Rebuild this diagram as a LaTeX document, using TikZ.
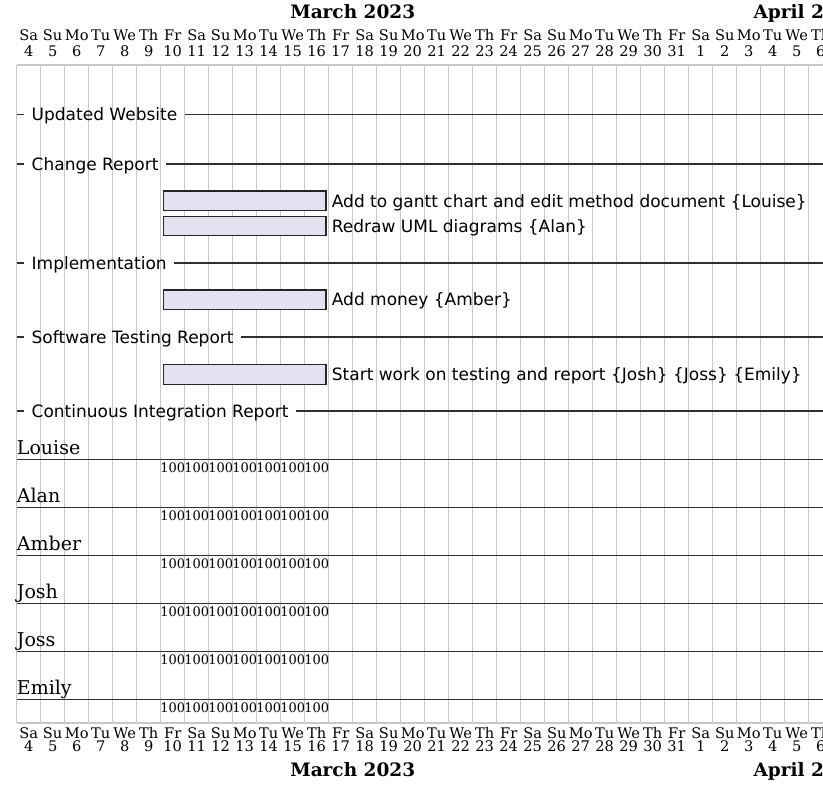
\documentclass[tikz,border=0pt]{standalone}
\usepackage{fontspec}
\setmainfont{DejaVu Serif}
\setsansfont{DejaVu Sans}
\usetikzlibrary{positioning}

\definecolor{gridgray}{HTML}{C8C8C8}
\definecolor{barfill}{HTML}{E2E2F0}
\definecolor{barline}{HTML}{262626}
\definecolor{rowline}{HTML}{303030}

\begin{document}
\begin{tikzpicture}[x=1pt, y=-1pt,
        day/.style={anchor=base, inner sep=0pt, font=\fontsize{14.6}{14.6}\selectfont},
        month/.style={anchor=base, inner sep=0pt, font=\bfseries\fontsize{18.5}{18.5}\selectfont},
        sepname/.style={anchor=west, inner xsep=7.5pt, inner ysep=0pt, text height=12.4pt, text depth=0pt, font=\sffamily\fontsize{17}{17}\selectfont},
        sepline/.style={draw=rowline, line width=1.3pt},
        gridline/.style={draw=gridgray, line width=1.2pt},
        taskbar/.style={rectangle, draw=barline, fill=barfill, line width=1.4pt, minimum width=162.7pt, minimum height=19.5pt, inner sep=0pt},
        tasklabel/.style={anchor=base west, inner sep=0pt, font=\sffamily\fontsize{17}{17}\selectfont},
        resname/.style={anchor=base west, inner sep=0pt, font=\fontsize{19}{19}\selectfont},
        load/.style={anchor=base west, inner sep=0pt, font=\fontsize{13}{13}\selectfont}]
        \fill[white] (0,0) rectangle (823,786);
        \useasboundingbox (0,0) rectangle (823,786);

        % calendar grid
        \foreach \k in {0,...,34}
            \draw[gridline] (16.7+24*\k, 65) -- (16.7+24*\k, 723);
        \draw[gridline] (16.7,65) -- (823,65);
        \draw[gridline] (16.7,723) -- (823,723);

        % day headers, top and bottom
        \foreach \k in {0,...,33} {
            \pgfmathtruncatemacro\dd{\k<28 ? \k+4 : \k-27}
            \pgfmathparse{{"Sa","Su","Mo","Tu","We","Th","Fr"}[int(mod(\k,7))]}
            \edef\dn{\pgfmathresult}
            \node[day] (dn-t\k) at (28.7+24*\k, 40.7) {\dn};
            \node[day] (dd-t\k) at (28.7+24*\k, 56.7) {\dd};
            \node[day] (dn-b\k) at (28.7+24*\k, 738.3) {\dn};
            \node[day] (dd-b\k) at (28.7+24*\k, 751.7) {\dd};
        }
        \node[month] (mar-t) at (352.7, 18.3) {March 2023};
        \node[month, anchor=base west] (apr-t) at (753.3, 18.3) {April 2023};
        \node[month] (mar-b) at (352.7, 776.7) {March 2023};
        \node[month, anchor=base west] (apr-b) at (753.3, 776.7) {April 2023};

        % separators
        \foreach \y/\t [count=\i] in {114.3/Updated Website, 164/Change Report, 263/Implementation,
                337/Software Testing Report, 411/Continuous Integration Report} {
            \coordinate (sep\i-l) at (16.7,\y);
            \coordinate (sep\i-r) at (823,\y);
            \node[sepname] (sep\i) at (24,\y) {\t};
            \draw[sepline] (sep\i-l) -- (sep\i.west);
            \draw[sepline] (sep\i.east) -- (sep\i-r);
        }

        % tasks
        \node[taskbar] (gantt) at (244.65, 200.9) {};
        \node[taskbar] (uml) at (244.65, 226) {};
        \node[taskbar] (money) at (244.65, 299.6) {};
        \node[taskbar] (testing) at (244.65, 374.5) {};
        \node[tasklabel] (gantt-lbl) at (331.7, 207.3) {Add to gantt chart and edit method document \{Louise\}};
        \node[tasklabel] (uml-lbl) at (331.7, 232.4) {Redraw UML diagrams \{Alan\}};
        \node[tasklabel] (money-lbl) at (331.7, 306) {Add money \{Amber\}};
        \node[tasklabel] (testing-lbl) at (331.7, 380.9) {Start work on testing and report \{Josh\} \{Joss\} \{Emily\}};

        % resources
        \foreach \r [count=\i from 0] in {Louise, Alan, Amber, Josh, Joss, Emily} {
            \node[resname] (res\i) at (16.7, 454.3+48*\i) {\r};
            \coordinate (res\i-l) at (16.7, 459.3+48*\i);
            \coordinate (res\i-r) at (823, 459.3+48*\i);
            \draw[sepline] (res\i-l) -- (res\i-r);
            \foreach \j in {0,...,6}
                \node[load] (load\i-\j) at (160.2+24*\j, 472.7+48*\i) {100};
        }
    \end{tikzpicture}
\end{document}
